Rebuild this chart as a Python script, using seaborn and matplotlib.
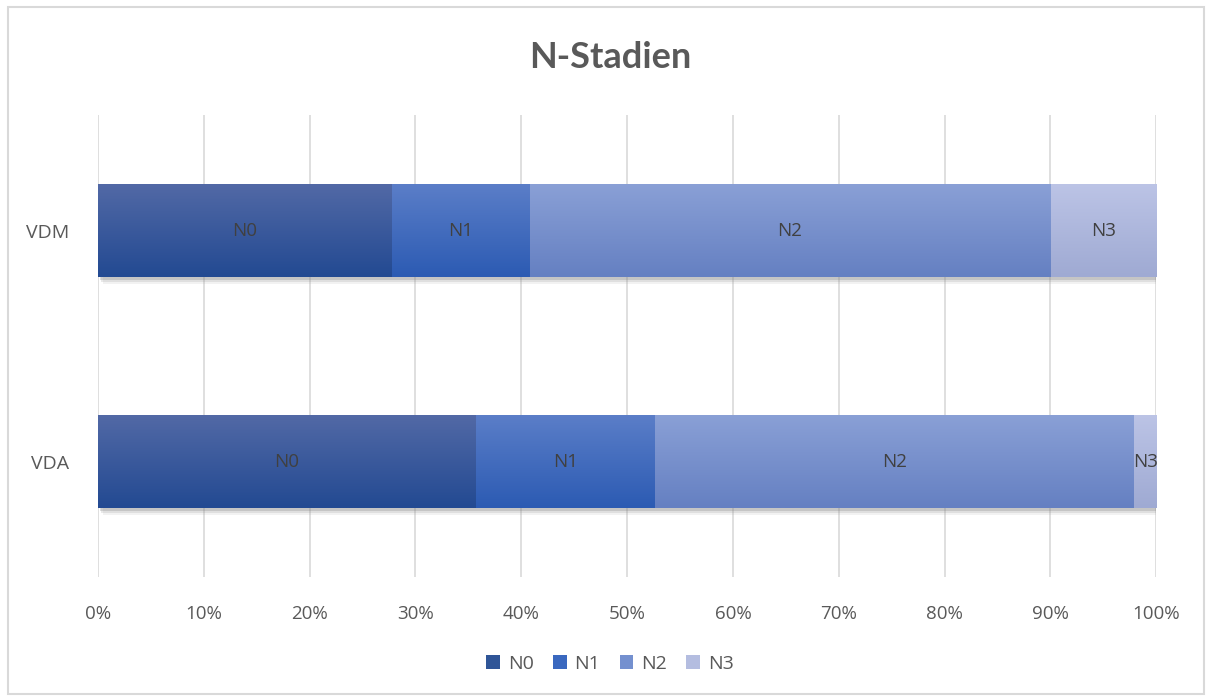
import numpy as np
import pandas as pd
import matplotlib
matplotlib.use("Agg")
import matplotlib.pyplot as plt
import matplotlib.patheffects as pe
from matplotlib.colors import to_rgb
import seaborn as sns

# Data: share of patients per N stage (percent)
groups = ["VDM", "VDA"]
stages = ["N0", "N1", "N2", "N3"]
vdm = [27.7, 13.1, 49.2, 10.0]
vda = [35.7, 16.9, 45.3, 2.1]
ticks = [0, 10, 20, 30, 40, 50, 60, 70, 80, 90, 100]
tick_labels = [f"{t}%" for t in ticks]

# Gradient (top, bottom) colours per stage
grad_top = ["#5269a6", "#5b7ec8", "#8aa0d6", "#bcc4e6"]
grad_bot = ["#234a92", "#2c5bb3", "#6580c2", "#9faad3"]
legend_cols = ["#2f5597", "#3a68bf", "#7490cf", "#b4bde0"]

sns.set_theme(style="white")
plt.rcParams["font.family"] = ["Open Sans", "DejaVu Sans"]

df = pd.DataFrame({"group": groups * 4,
                   "stage": np.repeat(stages, 2),
                   "value": [v for pair in zip(vdm, vda) for v in pair]})
wide = df.pivot(index="group", columns="stage", values="value").loc[groups]
cum = wide.cumsum(axis=1)

fig = plt.figure(figsize=(12.08, 6.97), dpi=100)
ax = fig.add_axes([0.0811, 0.172, 0.876, 0.663])

bar_h = 0.405
# Stack by drawing cumulative totals from the outermost stage inward
for k in range(len(stages) - 1, -1, -1):
    st = stages[k]
    sub = pd.DataFrame({"group": groups, "cum": cum[st].values})
    n_before = len(ax.patches)
    sns.barplot(data=sub, y="group", x="cum", order=groups, orient="h",
                color=legend_cols[k], width=bar_h, ax=ax, linewidth=0)
    new = ax.patches[n_before:]
    for p in new:
        p.set_zorder(3 + (len(stages) - 1 - k) * 2)
        if k == len(stages) - 1:
            p.set_path_effects([
                pe.SimplePatchShadow(offset=(3.5, -4.5), shadow_rgbFace="#9a9a9a", alpha=0.12),
                pe.SimplePatchShadow(offset=(2.5, -3.2), shadow_rgbFace="#8a8a8a", alpha=0.18),
                pe.SimplePatchShadow(offset=(1.5, -2.0), shadow_rgbFace="#7a7a7a", alpha=0.25),
                pe.Normal()])
        x0, y0 = p.get_x(), p.get_y()
        w, h = p.get_width(), p.get_height()
        top = np.array(to_rgb(grad_top[k]))
        bot = np.array(to_rgb(grad_bot[k]))
        t = np.linspace(0, 1, 64)[:, None]
        img = (top * (1 - t) + bot * t)[:, None, :]
        # y axis is inverted, so y0 is the visual top edge
        im = ax.imshow(img, extent=[x0, x0 + w, y0 + h, y0], aspect="auto",
                       zorder=p.get_zorder() + 0.5, interpolation="bilinear")
        im.set_clip_path(p)

# Segment labels
for i, g in enumerate(groups):
    left = 0
    for k, st in enumerate(stages):
        v = wide.loc[g, st]
        ax.text(left + v / 2, i, st, ha="center", va="center", fontsize=13.5,
                color="#404040", zorder=20)
        left += v

ax.set_xlim(0, 100)
ax.set_ylim(1.5, -0.5)
ax.set_xticks(ticks)
ax.set_xticklabels(tick_labels, fontsize=13.5, color="#595959")
ax.tick_params(axis="x", length=0, pad=20)
ax.tick_params(axis="y", length=0, pad=21, labelsize=14, labelcolor="#595959")
ax.set_xlabel("")
ax.set_ylabel("")
ax.grid(axis="x", color="#d9d9d9", linewidth=1.2, zorder=0)
ax.grid(axis="y", visible=False)
for s in ax.spines.values():
    s.set_visible(False)

fig.text(0.505, 0.918, "N-Stadien", ha="center", va="center", fontsize=26,
         fontweight="bold", color="#595959", family=["Lato", "DejaVu Sans"])

handles = [plt.Rectangle((0, 0), 1, 1, facecolor=c, edgecolor="none") for c in legend_cols]
fig.legend(handles, stages, loc="center", bbox_to_anchor=(0.505, 0.048), ncol=4,
           frameon=False, fontsize=14, handlelength=0.7, handleheight=0.7,
           handletextpad=0.4, columnspacing=1.0, labelcolor="#595959")

# Chart-area border
fig.patches.append(plt.Rectangle((0.0065, 0.004), 0.99, 0.986, transform=fig.transFigure,
                                 fill=False, edgecolor="#d9d9d9", linewidth=1.5))

fig.savefig("out.png", dpi=100, facecolor="white")
